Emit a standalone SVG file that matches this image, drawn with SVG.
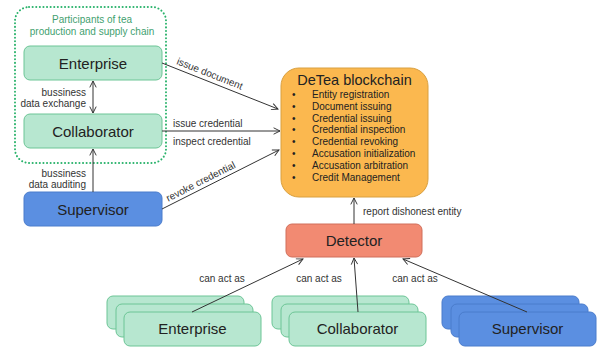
<svg xmlns="http://www.w3.org/2000/svg" width="598" height="347" viewBox="0 0 598 347">
<defs>
<marker id="arr" viewBox="0 0 10 10" refX="9" refY="5" markerWidth="8" markerHeight="8" markerUnits="userSpaceOnUse" orient="auto-start-reverse">
<path d="M1,1 L9,5 L1,9" fill="none" stroke="#333" stroke-width="1.2"/>
</marker>
<style>
text{font-family:"Liberation Sans",Arial,sans-serif;fill:#222}
.g{fill:#b7e7d0;stroke:#6cc596;stroke-width:1}
.b{fill:#5b8fe1;stroke:#4a7ccc;stroke-width:1}
.o{fill:#fbb84f;stroke:#d9a040;stroke-width:1}
.r{fill:#f28a72;stroke:#d06e5a;stroke-width:1}
.n{font-size:15px;text-anchor:middle}
.l{font-size:10px;fill:#333}
.c line{stroke:#333;stroke-width:1;marker-end:url(#arr)}
.it{font-size:10px}
</style>
</defs>
<rect width="598" height="347" fill="#fff"/>
<g id="participants">
<rect x="15" y="7" width="151" height="156" rx="14" fill="none" stroke="#2bb36c" stroke-width="2" stroke-dasharray="0.1 3.5" stroke-linecap="round"/>
<text x="92" y="22.5" font-size="10" text-anchor="middle" style="fill:#3f9f6f">Participants of tea</text>
<text x="92" y="35" font-size="10" text-anchor="middle" style="fill:#3f9f6f">production and supply chain</text>
</g>
<g id="enterprise"><rect class="g" x="24" y="46" width="138" height="34" rx="6"/><text class="n" x="93" y="68.5">Enterprise</text></g>
<g id="collaborator"><rect class="g" x="24" y="114" width="138" height="34" rx="6"/><text class="n" x="93" y="136.5">Collaborator</text></g>
<g id="supervisor"><rect class="b" x="24" y="192" width="138" height="34" rx="6"/><text class="n" x="93" y="214.5">Supervisor</text></g>
<g id="blockchain">
<rect class="o" x="281" y="68" width="147" height="129" rx="18"/>
<text x="354.5" y="84.5" font-size="14.5" text-anchor="middle">DeTea blockchain</text>
<g class="it">
<text x="292" y="98">•</text><text x="312" y="98">Entity registration</text>
<text x="292" y="109.8">•</text><text x="312" y="109.8">Document issuing</text>
<text x="292" y="121.6">•</text><text x="312" y="121.6">Credential issuing</text>
<text x="292" y="133.4">•</text><text x="312" y="133.4">Credential inspection</text>
<text x="292" y="145.2">•</text><text x="312" y="145.2">Credential revoking</text>
<text x="292" y="157">•</text><text x="312" y="157">Accusation initialization</text>
<text x="292" y="168.8">•</text><text x="312" y="168.8">Accusation arbitration</text>
<text x="292" y="180.6">•</text><text x="312" y="180.6">Credit Management</text>
</g>
</g>
<g id="detector"><rect class="r" x="286" y="224" width="136" height="33" rx="6"/><text class="n" x="354" y="246">Detector</text></g>
<g id="enterprise-stack">
<rect class="g" x="107" y="296" width="137" height="33" rx="6"/>
<rect class="g" x="116" y="304" width="137" height="33" rx="6"/>
<rect class="g" x="124" y="312" width="137" height="34" rx="6"/>
<text class="n" x="192.5" y="334">Enterprise</text>
</g>
<g id="collaborator-stack">
<rect class="g" x="272" y="296" width="137" height="33" rx="6"/>
<rect class="g" x="281" y="304" width="137" height="33" rx="6"/>
<rect class="g" x="289" y="312" width="137" height="34" rx="6"/>
<text class="n" x="357.5" y="334">Collaborator</text>
</g>
<g id="supervisor-stack">
<rect class="b" x="442" y="296" width="137" height="33" rx="6"/>
<rect class="b" x="451" y="304" width="137" height="33" rx="6"/>
<rect class="b" x="459" y="312" width="137" height="34" rx="6"/>
<text class="n" x="527.5" y="334">Supervisor</text>
</g>
<g id="connectors" class="c">
<line x1="93" y1="81" x2="93" y2="113" marker-start="url(#arr)"/>
<line x1="93" y1="192" x2="93" y2="149"/>
<line x1="162" y1="63" x2="278" y2="109"/>
<line x1="162" y1="131" x2="280" y2="131"/>
<line x1="162" y1="209" x2="279" y2="150"/>
<line x1="354" y1="224" x2="354" y2="198"/>
<line x1="192" y1="312" x2="303" y2="259"/>
<line x1="358" y1="312" x2="354" y2="258"/>
<line x1="527" y1="312" x2="403" y2="259"/>
</g>
<g id="labels" class="l">
<text x="86" y="95.5" text-anchor="end" class="l">bussiness</text>
<text x="86" y="107" text-anchor="end" class="l">data exchange</text>
<text x="86" y="176.5" text-anchor="end" class="l">bussiness</text>
<text x="86" y="188" text-anchor="end" class="l">data auditing</text>
<text class="l" text-anchor="middle" transform="translate(207,80.5) rotate(21.6)" y="-4">issue document</text>
<text class="l" x="173" y="127">issue credential</text>
<text class="l" x="173" y="145">inspect credential</text>
<text class="l" text-anchor="middle" transform="translate(204,188) rotate(-27)" y="-4">revoke credential</text>
<text class="l" x="363" y="214.5">report dishonest entity</text>
<text class="l" x="222" y="281.5" text-anchor="middle">can act as</text>
<text class="l" x="319" y="281.5" text-anchor="middle">can act as</text>
<text class="l" x="415" y="281.5" text-anchor="middle">can act as</text>
</g>
</svg>
